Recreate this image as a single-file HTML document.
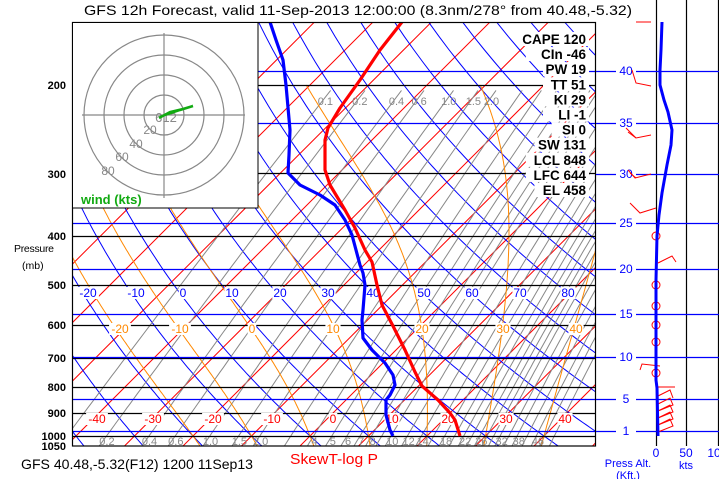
<!DOCTYPE html>
<html><head><meta charset="utf-8"><style>
html,body{margin:0;padding:0;background:#fff;}
svg{display:block;font-family:"Liberation Sans",sans-serif;}
</style></head><body>
<svg id="s" width="719" height="479" viewBox="0 0 719 479" xmlns="http://www.w3.org/2000/svg">
<defs><clipPath id="c"><rect x="72" y="22" width="524" height="424"/></clipPath></defs>
<g id="grid" clip-path="url(#c)"></g>
<g id="stat"></g>
</svg>
<script>
var NS="http://www.w3.org/2000/svg";
function yP(p){return 436+218.1*Math.log(p/1000);}
function xT(T,y){return 310+5.85*T+(436-y);}
var g=document.getElementById('grid'),svg=document.getElementById('s');
function el(par,tag,at,txt){var e=document.createElementNS(NS,tag);for(var k in at)e.setAttribute(k,at[k]);if(txt!=null)e.textContent=txt;par.appendChild(e);return e;}
function poly(par,pts,col,w,extra){var d=pts.map(function(p){return p[0].toFixed(1)+','+p[1].toFixed(1)}).join(' ');var a={points:d,fill:'none',stroke:col,'stroke-width':w};for(var k in extra)a[k]=extra[k];return el(par,'polyline',a);}
// isotherms
for(var T=-160;T<=60;T+=10){poly(g,[[xT(T,446),446],[xT(T,22),22]],'#f00',1);}
// dry adiabats
for(var th=-40;th<=220;th+=10){var pts=[];for(var p=1060;p>=140;p-=10){var y=yP(p);var t=(th+273.15)*Math.pow(p/1000,0.286)-273.15;pts.push([xT(t,y),y]);}poly(g,pts,'#00f',1);}
// mixing ratio
var ws=[0.1,0.2,0.4,0.6,1,1.5,2,3,4,5,6,7,8,9,10,12,14,16,18,20,22,24,26,28,30,32,35,38,42,46,50,55];
function tdw(w,p){var e=w*p/(622+w);var l=Math.log(e/6.112);return 243.5*l/(17.67-l);}
ws.forEach(function(w){var pts=[];for(var p=1060;p>=205;p-=15){var y=yP(p);pts.push([xT(tdw(w,p),y),y]);}poly(g,pts,'#888',1);});
// moist adiabats
function es(T){return 6.112*Math.exp(17.67*T/(T+243.5));}
function dTdp(T,p){var Tk=T+273.15,Rd=287,cp=1004,L=2.5e6,eps=0.622;var r=eps*es(T)/(p-es(T));return (Rd*Tk+L*r)/(cp+L*L*r*eps/(Rd*Tk*Tk))/p;}
for(var tw=-20;tw<=40;tw+=10){var pts=[];var t=tw,p=1000;var up=[];var t2=tw;for(var pp=1000;pp<=1060;pp+=5){up.unshift([xT(t2,yP(pp)),yP(pp)]);t2+=dTdp(t2,pp)*5;}
pts=up;for(p=1000;p>=200;p-=5){pts.push([xT(t,yP(p)),yP(p)]);t-=dTdp(t,p)*5;}poly(g,pts,'#f80',1);}
// pressure lines
[200,300,400,500,600,700,800,900,1000].forEach(function(p){var y=Math.round(yP(p))+0.5;el(g,'line',{x1:72,x2:596,y1:y,y2:y,stroke:'#000','stroke-width':1.2});});
[71,123,223,269,314,357,399,431].forEach(function(y){el(g,'line',{x1:72,x2:596,y1:y+0.5,y2:y+0.5,stroke:'#00f','stroke-width':1.2});});
// labels in plot
function lab(x,y,t,c,sz,bg){if(bg){el(g,'rect',{x:x-t.length*3.3-1,y:y-10,width:t.length*6.6+2,height:12,fill:'#fff'});}el(g,'text',{x:x,y:y,fill:c,'font-size':sz||12,'text-anchor':'middle'},t);}
[[-20,88],[-10,136],[0,183],[10,232],[20,280],[30,328],[40,373],[50,424],[60,472],[70,520],[80,568]].forEach(function(a){lab(a[1],297,''+a[0],'#00f',12,1);});
[[-40,97],[-30,153],[-20,213],[-10,272],[0,333],[10,392],[20,448],[30,506],[40,565]].forEach(function(a){lab(a[1],423,''+a[0],'#f00',12,1);});
[[-20,120],[-10,180],[0,252],[10,333],[20,422],[30,503],[40,576]].forEach(function(a){lab(a[1],333,''+a[0],'#f80',12,1);});
[0.2,0.4,0.6,1,1.5,2,4,5,6,7,8,10,12,14,18,22,26,32,38,46].forEach(function(w){var y=441;var x=xT(tdw(w,1025),y);var t=(w==1||w==2)?w.toFixed(1):''+w;el(g,'text',{x:x+4,y:445,fill:'#888','font-size':11,'text-anchor':'middle'},t);});
[0.1,0.2,0.4,0.6,1,1.5,2].forEach(function(w){var y=101;var p=1000*Math.exp((y-436)/218.1);var x=xT(tdw(w,p),y);var t=(w==1||w==2)?w.toFixed(1):''+w;el(g,'text',{x:x+3,y:105,fill:'#888','font-size':11,'text-anchor':'middle'},t);});
// profiles
poly(g,[[402,22],[380,50],[360,80],[340,108],[328,128],[325,140],[325,170],[330,185],[345,210],[355,228],[365,250],[372,262],[377,285],[382,305],[393,326],[405,350],[415,372],[422,386],[438,400],[450,413],[455,420],[460,436]],'#f00',3.2,{'stroke-linejoin':'round'});
poly(g,[[270,22],[276,40],[283,60],[286,85],[290,130],[289,155],[288,173],[300,185],[320,195],[335,205],[345,220],[352,235],[356,250],[360,265],[363,273],[365,285],[363,310],[362,320],[363,338],[372,350],[385,363],[393,375],[395,385],[390,395],[386,400],[386,415],[390,430],[393,436]],'#00f',3.2,{'stroke-linejoin':'round'});
// stats
var st=document.getElementById('stat');
['CAPE 120','CIn -46','PW 19','TT 51','KI 29','LI -1','SI 0','SW 131','LCL 848','LFC 644','EL 458'].forEach(function(t,i){var y=39+i*15.1;var w=t.length*8.6;el(st,'rect',{x:586-w,y:y-7,width:w+3,height:14,fill:'#fff'});el(st,'text',{x:586,y:y+5,'font-size':13.5,'font-weight':'bold','text-anchor':'end',fill:'#000'},t);});
</script>
<svg x="0" y="0" width="719" height="479" style="position:absolute;left:0;top:0" viewBox="0 0 719 479">
</svg>
<script>
var s=document.getElementById('s');
var extra='\
<rect x="72.5" y="22.5" width="523" height="423.5" fill="none" stroke="#000" stroke-width="1.2"/>\
<rect x="72.5" y="22.5" width="185.5" height="185.5" fill="#fff" stroke="#000" stroke-width="1"/>\
<g fill="none" stroke="#888" stroke-width="1.2"><circle cx="164" cy="115" r="20"/><circle cx="164" cy="115" r="40"/><circle cx="164" cy="115" r="60"/><circle cx="164" cy="115" r="80"/>\
<line x1="82" y1="115" x2="245" y2="115"/><line x1="164" y1="33" x2="164" y2="198"/></g>\
<g fill="#888" font-size="12"><text x="150" y="134" text-anchor="middle">20</text><text x="136" y="148" text-anchor="middle">40</text><text x="122" y="161" text-anchor="middle">60</text><text x="108" y="175" text-anchor="middle">80</text><text x="166" y="122" text-anchor="middle" font-size="13">612</text></g>\
<polyline points="159,118 170,112 183,109 193,106 180,110 165,115 160,117" fill="none" stroke="#1a1" stroke-width="2.5"/>\
<text x="81" y="204" fill="#1a1" font-size="13" font-weight="bold">wind (kts)</text>\
<text x="84" y="15" font-size="14" textLength="548" lengthAdjust="spacingAndGlyphs">GFS 12h Forecast, valid 11-Sep-2013 12:00:00 (8.3nm/278° from 40.48,-5.32)</text>\
<text x="21" y="469" font-size="14" textLength="232" lengthAdjust="spacingAndGlyphs">GFS 40.48,-5.32(F12) 1200 11Sep13</text>\
<text x="290" y="464" font-size="15" fill="#f00" textLength="88" lengthAdjust="spacingAndGlyphs">SkewT-log P</text>\
<text x="14" y="252" font-size="10.5" textLength="40">Pressure</text><text x="22" y="269" font-size="10.5">(mb)</text>\
<g font-size="11" font-weight="bold" text-anchor="end"><text x="66" y="89">200</text><text x="66" y="178">300</text><text x="66" y="240">400</text><text x="66" y="289">500</text><text x="66" y="329">600</text><text x="66" y="362">700</text><text x="66" y="391">800</text><text x="66" y="417">900</text><text x="66" y="440">1000</text><text x="66" y="450">1050</text></g>\
<g stroke="#000" stroke-width="1.2"><line x1="656.5" y1="0" x2="656.5" y2="446"/><line x1="686.5" y1="0" x2="686.5" y2="446"/><line x1="718.5" y1="0" x2="718.5" y2="446"/></g>\
<g stroke="#00f" stroke-width="1.2"><line x1="596" y1="71.5" x2="616" y2="71.5"/><line x1="636" y1="71.5" x2="719" y2="71.5"/><line x1="596" y1="123.5" x2="616" y2="123.5"/><line x1="636" y1="123.5" x2="719" y2="123.5"/><line x1="596" y1="174.5" x2="616" y2="174.5"/><line x1="636" y1="174.5" x2="719" y2="174.5"/><line x1="596" y1="223.5" x2="616" y2="223.5"/><line x1="636" y1="223.5" x2="719" y2="223.5"/><line x1="596" y1="269.5" x2="616" y2="269.5"/><line x1="636" y1="269.5" x2="719" y2="269.5"/><line x1="596" y1="314.5" x2="616" y2="314.5"/><line x1="636" y1="314.5" x2="719" y2="314.5"/><line x1="596" y1="357.5" x2="616" y2="357.5"/><line x1="636" y1="357.5" x2="719" y2="357.5"/><line x1="596" y1="399.5" x2="616" y2="399.5"/><line x1="636" y1="399.5" x2="719" y2="399.5"/><line x1="596" y1="431.5" x2="616" y2="431.5"/><line x1="636" y1="431.5" x2="719" y2="431.5"/></g>\
<g fill="#00f" font-size="12" text-anchor="middle"><text x="626" y="75">40</text><text x="626" y="127">35</text><text x="626" y="178">30</text><text x="626" y="227">25</text><text x="626" y="273">20</text><text x="626" y="318">15</text><text x="626" y="361">10</text><text x="626" y="403">5</text><text x="626" y="435">1</text>\
<text x="628" y="467" font-size="11">Press Alt.</text><text x="628" y="479" font-size="11">(Kft.)</text><text x="686" y="469" font-size="11">kts</text></g>\
<g fill="#00f" font-size="12" text-anchor="middle"><text x="656" y="457">0</text><text x="686" y="457">50</text><text x="714" y="457">10</text></g>\
<g fill="none" stroke="#f00" stroke-width="1"><polyline points="636,22 651,22 651,22"/><polyline points="632,70 636,83 651,86"/><polyline points="626,128 636,138 651,135"/><line x1="628" y1="132" x2="636" y2="138"/><polyline points="628,170 635,178 651,174"/><line x1="630" y1="173" x2="636" y2="178"/><polyline points="630,203 640,213 656,208"/><polyline points="658,263 672,256 676,262"/><polyline points="660,366 642,364 640,370"/><line x1="658" y1="387" x2="675" y2="387"/><polyline points="658,396 670,390 673,398"/><polyline points="658,404 670,398 673,405 658,411 670,405 673,412 658,418 670,412 673,419 658,425 670,419 673,426 658,432"/>\
<circle cx="656" cy="236" r="4"/><circle cx="656" cy="285" r="4"/><circle cx="656" cy="306" r="4"/><circle cx="656" cy="325" r="4"/><circle cx="656" cy="342" r="4"/><circle cx="656" cy="373" r="4"/></g>\
<polyline points="662,22 661,50 660,70 660,85 664,100 668,112 672,130 671,145 667,165 662,193 659,215 657,236 656,280 656,380 657,388 658,436" fill="none" stroke="#00f" stroke-width="3"/>';
s.insertAdjacentHTML('beforeend',extra);
</script>
</body></html>
